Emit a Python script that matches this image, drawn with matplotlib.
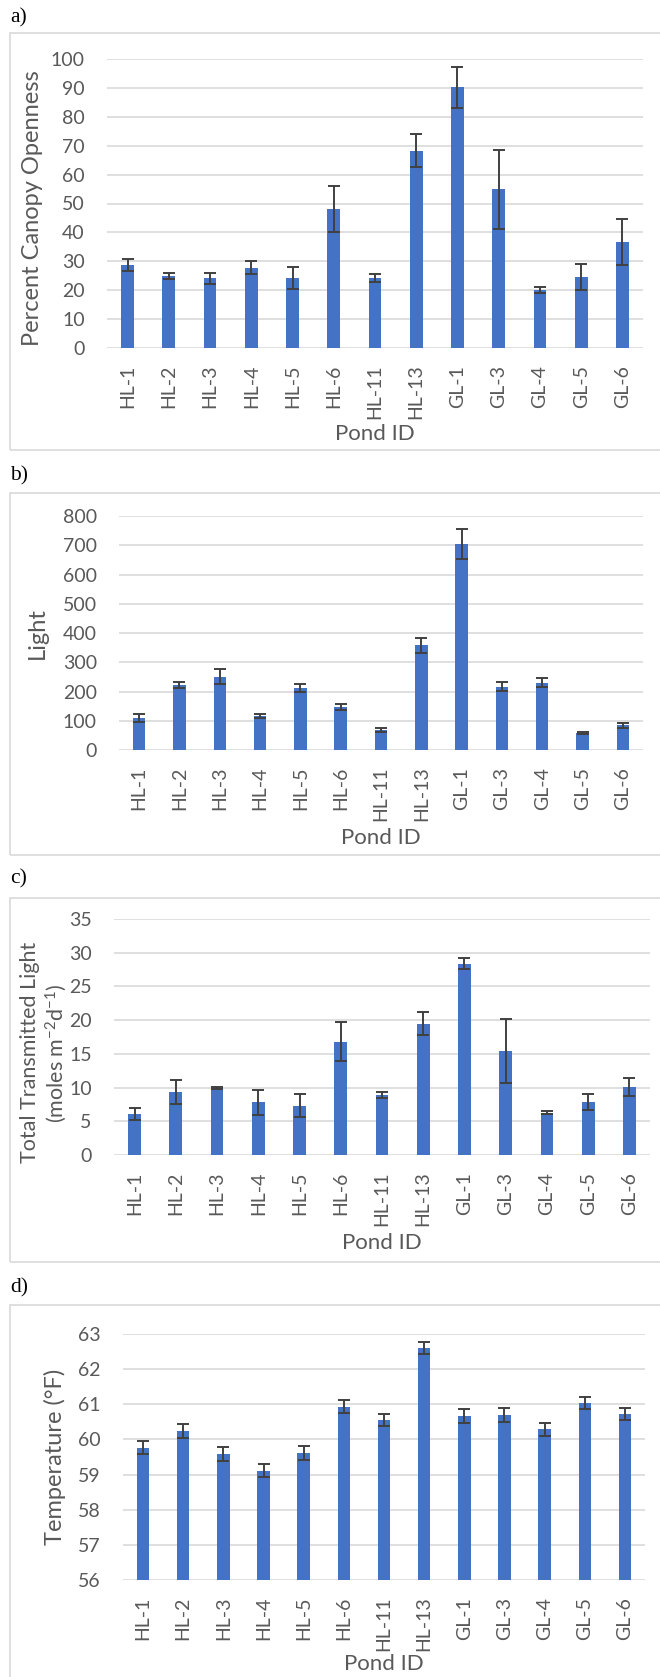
import matplotlib
matplotlib.use("Agg")
import matplotlib.pyplot as plt
from matplotlib.patches import Rectangle

# pond IDs shared by all four panels
ponds = ['HL-1', 'HL-2', 'HL-3', 'HL-4', 'HL-5', 'HL-6', 'HL-11', 'HL-13',
         'GL-1', 'GL-3', 'GL-4', 'GL-5', 'GL-6']

# a) percent canopy openness
canopy = [28.7, 24.9, 24.1, 27.8, 24.1, 48.2, 24.1, 68.3, 90.3, 54.9, 20.1, 24.6, 36.7]
canopy_err = [2.0, 1.1, 2.0, 2.3, 3.8, 7.9, 1.4, 5.7, 7.1, 13.7, 0.95, 4.5, 7.9]

# b) light
light = [110, 222, 251, 116, 213, 146, 68, 358, 704, 217, 230, 57, 85]
light_err = [14, 10, 25, 7, 14, 10, 8, 25, 52, 16, 16, 4, 9]

# c) total transmitted light
ttl = [6.1, 9.3, 9.9, 7.8, 7.3, 16.8, 8.9, 19.5, 28.4, 15.4, 6.3, 7.8, 10.1]
ttl_err = [0.9, 1.8, 0.15, 1.8, 1.7, 2.9, 0.5, 1.7, 0.8, 4.75, 0.2, 1.2, 1.3]

# d) temperature
temp = [59.77, 60.25, 59.59, 59.11, 59.61, 60.93, 60.56, 62.60, 60.68, 60.70, 60.29, 61.03, 60.72]
temp_err = [0.19, 0.20, 0.20, 0.18, 0.19, 0.18, 0.17, 0.18, 0.20, 0.20, 0.19, 0.17, 0.17]

W, H = 660, 1677
BAR = '#4472C4'
GRID = '#D9D9D9'
TXT = '#595959'
SANS = 'Lato'
SERIF = 'Liberation Serif'

plt.rcParams['mathtext.fontset'] = 'custom'
plt.rcParams['mathtext.rm'] = SANS
plt.rcParams['mathtext.it'] = SANS

fig = plt.figure(figsize=(W / 100, H / 100), dpi=100)


def box(l, t, r, b):
    return [l / W, 1 - b / H, (r - l) / W, (b - t) / H]


def ftext(x, y, s, **kw):
    fig.text(x / W, 1 - y / H, s, **kw)


panels = [
    dict(letter='a)', ly=18, frame=(33, 450), ax=(107, 59, 643, 348),
         vals=canopy, err=canopy_err, ylim=(0, 100), step=10, xlab_y=434),
    dict(letter='b)', ly=476, frame=(493, 855), ax=(119, 516, 643, 750),
         vals=light, err=light_err, ylim=(0, 800), step=100, xlab_y=838),
    dict(letter='c)', ly=879, frame=(898, 1262), ax=(114, 919, 650, 1155),
         vals=ttl, err=ttl_err, ylim=(0, 35), step=5, xlab_y=1243),
    dict(letter='d)', ly=1288, frame=(1305, 1700), ax=(123, 1334, 645, 1580),
         vals=temp, err=temp_err, ylim=(56, 63), step=1, xlab_y=1664),
]

for p in panels:
    ftext(10, p['ly'], p['letter'], family=SERIF, fontsize=15.5, va='center', ha='left')
    t, b = p['frame']
    fig.patches.append(Rectangle((10.5 / W, 1 - b / H), 700 / W, (b - t) / H,
                                 transform=fig.transFigure, fill=False,
                                 edgecolor=GRID, linewidth=1.2))
    l, at, r, ab = p['ax']
    ax = fig.add_axes(box(l, at, r, ab))
    x = range(len(ponds))
    ax.bar(x, p['vals'], width=0.31, color=BAR, zorder=3)
    ax.errorbar(x, p['vals'], yerr=p['err'], fmt='none', ecolor='#404040',
                elinewidth=1.4, capsize=4.5, capthick=1.4, zorder=4)
    lo, hi = p['ylim']
    ax.set_ylim(lo, hi)
    ax.set_xlim(-0.5, len(ponds) - 0.5)
    ticks = [lo + i * p['step'] for i in range(int(round((hi - lo) / p['step'])) + 1)]
    ax.set_yticks(ticks)
    ax.grid(axis='y', color=GRID, linewidth=1.2, zorder=0)
    ax.set_axisbelow(True)
    for s in ax.spines.values():
        s.set_visible(False)
    ax.tick_params(length=0, colors=TXT)
    ax.tick_params(axis='y', pad=16, labelsize=14)
    ax.tick_params(axis='x', pad=12, labelsize=14)
    ax.set_xticks(list(x))
    ax.set_xticklabels(ponds, rotation=90, va='top', ha='center')
    for lab in ax.get_xticklabels() + ax.get_yticklabels():
        lab.set_family(SANS)
    ftext((l + r) / 2, p['xlab_y'], 'Pond ID', family=SANS, fontsize=16,
          color=TXT, ha='center', va='center')

# y-axis titles
ftext(33, 208, 'Percent Canopy Openness', family=SANS, fontsize=17, color=TXT,
      rotation=90, ha='center', va='center')
ftext(37, 633, 'Light', family=SANS, fontsize=17, color=TXT,
      rotation=90, ha='center', va='center')
ftext(30, 1052, 'Total Transmitted Light', family=SANS, fontsize=15.5, color=TXT,
      rotation=90, ha='center', va='center')
ftext(56, 1053, '(moles m$^{-2}$d$^{-1}$)', family=SANS, fontsize=15.5, color=TXT,
      rotation=90, ha='center', va='center')
ftext(55, 1457, 'Temperature (°F)', family=SANS, fontsize=17, color=TXT,
      rotation=90, ha='center', va='center')

fig.savefig('out.png', dpi=100)
